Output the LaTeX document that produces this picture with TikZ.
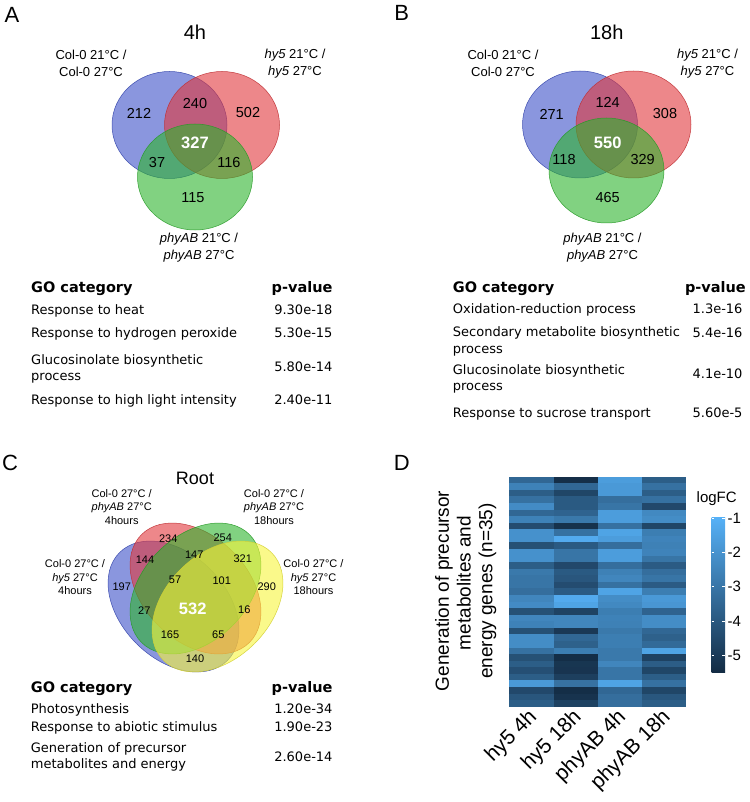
\documentclass[tikz,border=0pt]{standalone}
\usepackage{fontspec}
\setmainfont{Liberation Sans}
\newfontfamily\tabfont{DejaVu Sans}
\definecolor{vblue}{RGB}{60,80,200}
\definecolor{vred}{RGB}{225,55,60}
\definecolor{vgreen}{RGB}{45,180,45}
\definecolor{vyellow}{RGB}{248,245,60}
\definecolor{hmlo}{HTML}{132B43}
\definecolor{hmhi}{HTML}{56B1F7}
\begin{document}
\begin{tikzpicture}[x=1pt,y=-1pt,
  venn/.style={fill opacity=0.6, draw opacity=0.9, line width=0.5pt},
  panel/.style={font=\fontsize{22}{24}\selectfont, inner sep=0},
  ttl/.style={font=\fontsize{20}{22}\selectfont, inner sep=0},
  num/.style={font=\fontsize{14.5}{17}\selectfont, inner sep=0},
  bignum/.style={font=\bfseries\fontsize{16.5}{18}\selectfont, text=white, inner sep=0},
  lbl/.style={font=\fontsize{13}{17}\selectfont, align=center, inner sep=0},
  numc/.style={font=\fontsize{11}{13}\selectfont, inner sep=0},
  lblc/.style={font=\fontsize{11}{13.4}\selectfont, align=center, inner sep=0},
  gohead/.style={font=\tabfont\bfseries\fontsize{14.5}{17}\selectfont, inner sep=0},
  gorow/.style={font=\tabfont\fontsize{13}{16.7}\selectfont, align=left, anchor=base west, inner sep=0},
  pval/.style={font=\tabfont\fontsize{13}{16.7}\selectfont, anchor=base east, inner sep=0},
  dtxt/.style={font=\fontsize{15}{18}\selectfont, inner sep=0},
  coltxt/.style={font=\fontsize{21}{23}\selectfont, rotate=45, anchor=east, inner sep=0}
]
\fill[white] (0,0) rectangle (749,802);
\useasboundingbox (0,0) rectangle (749,802);

% ---------------- Panel A ----------------
\node[panel] (pA) at (12,15) {A};
\node[ttl] (tA) at (195,32) {4h};
\filldraw[venn, fill=vblue, draw=vblue!85!black] (169.5,125) ellipse (57.5pt and 53.5pt);
\filldraw[venn, fill=vred, draw=vred!85!black] (222,125) ellipse (57.5pt and 53.5pt);
\filldraw[venn, fill=vgreen, draw=vgreen!85!black] (195,177) ellipse (57.5pt and 53pt);
\node[lbl] (lA1) at (91,63.5) {Col-0 21°C /\\Col-0 27°C};
\node[lbl] (lA2) at (295,63.5) {\textit{hy5} 21°C /\\\textit{hy5} 27°C};
\node[lbl] (lA3) at (199,247.5) {\textit{phyAB} 21°C /\\\textit{phyAB} 27°C};
\node[num] (nA1) at (139,113) {212};
\node[num] (nA2) at (195,104) {240};
\node[num] (nA3) at (248,113) {502};
\node[bignum] (nA4) at (195,143) {327};
\node[num] (nA5) at (157,163) {37};
\node[num] (nA6) at (229,163) {116};
\node[num] (nA7) at (193,198) {115};

\node[gohead, anchor=base west] (hA1) at (31,292) {GO category};
\node[gohead, anchor=base east] (hA2) at (332.7,292) {p-value};
\node[gorow] (rA1) at (31,314) {Response to heat};
\node[pval] (vA1) at (332.7,314) {9.30e-18};
\node[gorow] (rA2) at (31,337.4) {Response to hydrogen peroxide};
\node[pval] (vA2) at (332.7,337.4) {5.30e-15};
\node[gorow] (rA3) at (31,380.7) {Glucosinolate biosynthetic\\process};
\node[pval] (vA3) at (332.7,371.4) {5.80e-14};
\node[gorow] (rA4) at (31,404) {Response to high light intensity};
\node[pval] (vA4) at (332.7,404) {2.40e-11};

% ---------------- Panel B ----------------
\node[panel] (pB) at (401.7,13) {B};
\node[ttl] (tB) at (606.7,32) {18h};
\filldraw[venn, fill=vblue, draw=vblue!85!black] (580,124.5) ellipse (57.5pt and 53.5pt);
\filldraw[venn, fill=vred, draw=vred!85!black] (633.5,124.5) ellipse (57.5pt and 53.5pt);
\filldraw[venn, fill=vgreen, draw=vgreen!85!black] (606.5,170.5) ellipse (57.5pt and 52.5pt);
\node[lbl] (lB1) at (503,63.5) {Col-0 21°C /\\Col-0 27°C};
\node[lbl] (lB2) at (707.5,63.5) {\textit{hy5} 21°C /\\\textit{hy5} 27°C};
\node[lbl] (lB3) at (602.5,247.5) {\textit{phyAB} 21°C /\\\textit{phyAB} 27°C};
\node[num] (nB1) at (551.7,114) {271};
\node[num] (nB2) at (607.7,102.7) {124};
\node[num] (nB3) at (665,114) {308};
\node[bignum] (nB4) at (607.7,143.3) {550};
\node[num] (nB5) at (564,160) {118};
\node[num] (nB6) at (642.7,160) {329};
\node[num] (nB7) at (607.7,197.3) {465};

\node[gohead, anchor=base west] (hB1) at (452.7,292) {GO category};
\node[gohead, anchor=base east] (hB2) at (746,292) {p-value};
\node[gorow] (rB1) at (452.7,313.7) {Oxidation-reduction process};
\node[pval] (vB1) at (742.7,313.7) {1.3e-16};
\node[gorow] (rB2) at (452.7,353) {Secondary metabolite biosynthetic\\process};
\node[pval] (vB2) at (742.7,337.4) {5.4e-16};
\node[gorow] (rB3) at (452.7,390.7) {Glucosinolate biosynthetic\\process};
\node[pval] (vB3) at (742.7,378) {4.1e-10};
\node[gorow] (rB4) at (452.7,417.7) {Response to sucrose transport};
\node[pval] (vB4) at (742.7,417.7) {5.60e-5};

% ---------------- Panel C ----------------
\node[panel] (pC) at (10,463) {C};
\node[font=\fontsize{18}{20}\selectfont, inner sep=0] (tC) at (195,478) {Root};
\filldraw[venn, fill=vblue, draw=vblue!85!black, rotate around={-45:(173.5,606.5)}] (173.5,606.5) ellipse (76.3pt and 52.4pt);
\filldraw[venn, fill=vred, draw=vred!85!black, rotate around={-45:(195.5,588.5)}] (195.5,588.5) ellipse (76.3pt and 52.4pt);
\filldraw[venn, fill=vgreen, draw=vgreen!85!black, rotate around={45:(195.5,588.5)}] (195.5,588.5) ellipse (76.3pt and 52.4pt);
\filldraw[venn, fill=vyellow, draw=vyellow!85!black, rotate around={45:(217.5,606.5)}] (217.5,606.5) ellipse (76.3pt and 52.4pt);
\node[lblc] (lC1) at (121.7,506.7) {Col-0 27°C /\\\textit{phyAB} 27°C\\4hours};
\node[lblc] (lC2) at (274,506.7) {Col-0 27°C /\\\textit{phyAB} 27°C\\18hours};
\node[lblc] (lC3) at (75,577.3) {Col-0 27°C /\\\textit{hy5} 27°C\\4hours};
\node[lblc] (lC4) at (313.5,577.3) {Col-0 27°C /\\\textit{hy5} 27°C\\18hours};
\node[numc] (nC1) at (168.3,539) {234};
\node[numc] (nC2) at (222.7,537.7) {254};
\node[numc] (nC3) at (145,559.3) {144};
\node[numc] (nC4) at (194.3,555) {147};
\node[numc] (nC5) at (242.7,558.3) {321};
\node[numc] (nC6) at (121.7,586.7) {197};
\node[numc] (nC7) at (175,580) {57};
\node[numc] (nC8) at (221.7,580.7) {101};
\node[numc] (nC9) at (266.7,586.7) {290};
\node[numc] (nC10) at (144.3,611) {27};
\node[bignum] (nC11) at (192.7,609.3) {532};
\node[numc] (nC12) at (244.3,609.3) {16};
\node[numc] (nC13) at (170,635) {165};
\node[numc] (nC14) at (218.3,634.3) {65};
\node[numc] (nC15) at (195,658.3) {140};

\node[gohead, anchor=base west] (hC1) at (30.7,692) {GO category};
\node[gohead, anchor=base east] (hC2) at (332.7,692) {p-value};
\node[gorow] (rC1) at (30.7,713) {Photosynthesis};
\node[pval] (vC1) at (332.7,713.7) {1.20e-34};
\node[gorow] (rC2) at (30.7,731.4) {Response to abiotic stimulus};
\node[pval] (vC2) at (332.7,731.7) {1.90e-23};
\node[gorow] (rC3) at (30.7,768.7) {Generation of precursor\\metabolites and energy};
\node[pval] (vC3) at (332.7,761.4) {2.60e-14};

% ---------------- Panel D ----------------
\node[panel] (pD) at (401.7,463.3) {D};
\foreach \r/\va/\vb/\vc/\vd in {
0/45/3/85/38, 1/65/45/82/52, 2/38/20/82/38, 3/52/35/50/52, 4/72/35/55/22,
5/45/42/85/70, 6/65/58/85/73, 7/25/5/52/20, 8/76/52/90/62, 9/76/95/85/66,
10/28/35/50/64, 11/76/55/85/66, 12/76/55/85/55, 13/38/22/50/36, 14/58/35/64/50,
15/55/32/68/55, 16/55/25/52/36, 17/50/36/90/62, 18/68/95/73/82, 19/72/90/70/80,
20/28/18/62/42, 21/68/68/65/73, 22/65/68/64/73, 23/28/10/58/45, 24/73/45/62/40,
25/73/40/62/47, 26/52/62/58/90, 27/28/2/58/17, 28/38/8/68/37, 29/27/7/55/20,
30/38/15/55/38, 31/82/53/90/52, 32/22/2/45/20, 33/32/6/50/33, 34/38/17/50/38}{
  \pgfmathsetmacro\yt{476.7+6.571*\r}
  \pgfmathsetmacro\yb{\yt+6.7}
  \fill[hmhi!\va!hmlo] (509.3,\yt) rectangle (553.8,\yb);
  \fill[hmhi!\vb!hmlo] (553.7,\yt) rectangle (598.1,\yb);
  \fill[hmhi!\vc!hmlo] (598,\yt) rectangle (642.4,\yb);
  \fill[hmhi!\vd!hmlo] (642.3,\yt) rectangle (686,\yb);
}
\node[font=\fontsize{19}{21.7}\selectfont, align=center, rotate=90, inner sep=0] (ylab) at (465.7,591)
  {Generation of precursor\\\hspace*{16pt}metabolites and\\energy genes (n=35)};
\node[coltxt] (cl1) at (534,714) {hy5 4h};
\node[coltxt] (cl2) at (578.5,714) {hy5 18h};
\node[coltxt] (cl3) at (623,714) {phyAB 4h};
\node[coltxt] (cl4) at (667.5,714) {phyAB 18h};
\node[dtxt] (lgt) at (716.7,498.3) {logFC};
\shade[top color=hmhi, bottom color=hmlo] (711.7,517.3) rectangle (725,672.7);
\foreach \v [count=\i from 0] in {1,2,3,4,5}{
  \pgfmathsetmacro\ty{518.3+34.2*\i}
  \draw[white, line width=0.6pt] (711.7,\ty) -- (714.4,\ty);
  \draw[white, line width=0.6pt] (722.3,\ty) -- (725,\ty);
  \node[dtxt, anchor=west] (tk\i) at (727.5,\ty) {-\v};
}
\end{tikzpicture}
\end{document}
